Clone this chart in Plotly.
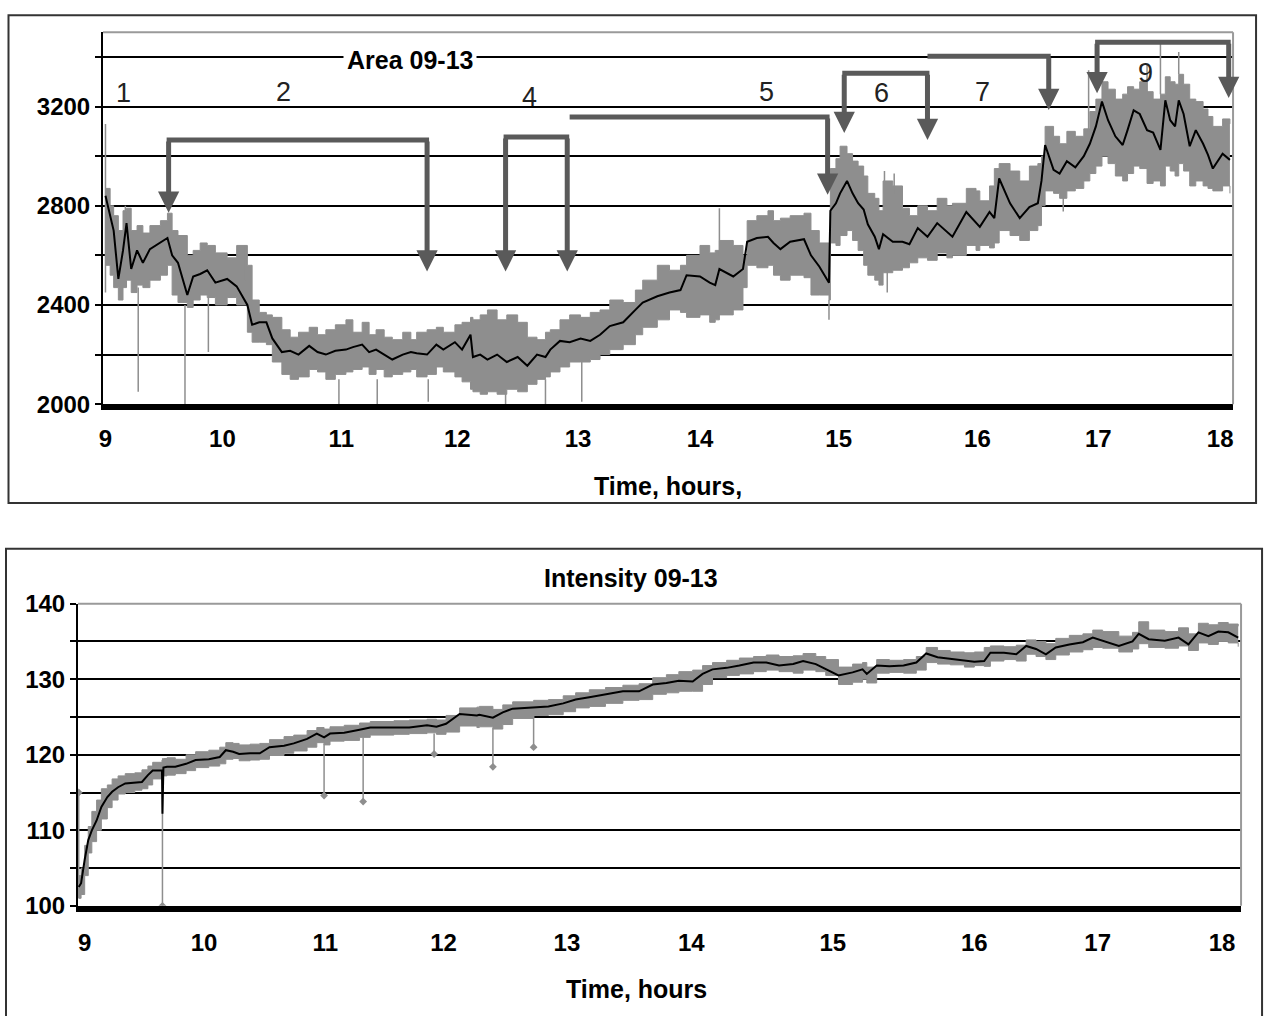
import numpy as np
import plotly.graph_objects as go

# ---------------- axis structure (Excel-like category axis: hour ticks at sample positions)
hour_labels = [9, 10, 11, 12, 13, 14, 15, 16, 17, 18]
hour_tick_pos = [0, 118, 238, 355, 477, 600, 740, 880, 1002, 1125]

# ---------------- Area 09-13 (top panel)
area_t = [9.00, 9.04, 9.07, 9.11, 9.15, 9.18, 9.22, 9.27, 9.32, 9.38,
          9.47, 9.53, 9.57, 9.62, 9.70, 9.75, 9.81, 9.87, 9.94, 10.04,
          10.12, 10.21, 10.25, 10.31, 10.37, 10.42, 10.50, 10.57, 10.64, 10.73,
          10.80, 10.87, 10.95, 11.04, 11.10, 11.18, 11.24, 11.30, 11.37, 11.44,
          11.53, 11.60, 11.65, 11.74, 11.82, 11.88, 11.98, 12.04, 12.11, 12.13,
          12.19, 12.25, 12.33, 12.41, 12.50, 12.58, 12.66, 12.73, 12.77, 12.85,
          12.93, 13.02, 13.10, 13.18, 13.26, 13.37, 13.47, 13.53, 13.65, 13.75,
          13.84, 13.89, 14.00, 14.07, 14.11, 14.14, 14.24, 14.31, 14.34, 14.41,
          14.49, 14.53, 14.58, 14.65, 14.75, 14.80, 14.86, 14.93, 14.94, 14.98,
          15.01, 15.06, 15.10, 15.14, 15.18, 15.21, 15.26, 15.29, 15.32, 15.39,
          15.46, 15.51, 15.57, 15.64, 15.71, 15.78, 15.82, 15.92, 15.99, 16.02,
          16.10, 16.14, 16.18, 16.27, 16.35, 16.43, 16.50, 16.53, 16.56, 16.63,
          16.68, 16.74, 16.81, 16.88, 16.93, 16.98, 17.03, 17.08, 17.14, 17.20,
          17.24, 17.29, 17.34, 17.40, 17.45, 17.51, 17.55, 17.59, 17.63, 17.66,
          17.70, 17.75, 17.80, 17.86, 17.90, 17.94, 18.02, 18.08]
area_mean = [2840, 2760, 2700, 2505, 2620, 2730, 2545, 2620, 2570, 2625,
             2650, 2670, 2600, 2570, 2440, 2515, 2525, 2540, 2490, 2505,
             2475, 2400, 2320, 2330, 2330, 2265, 2210, 2215, 2200, 2235,
             2210, 2200, 2215, 2220, 2230, 2240, 2210, 2220, 2200, 2180,
             2200, 2210, 2205, 2200, 2240, 2220, 2250, 2220, 2280, 2190,
             2200, 2180, 2200, 2170, 2190, 2155, 2200, 2190, 2220, 2255,
             2250, 2265, 2255, 2280, 2315, 2330, 2380, 2410, 2435, 2450,
             2460, 2520, 2515, 2490, 2480, 2545, 2515, 2545, 2655, 2670,
             2675, 2650, 2625, 2655, 2665, 2600, 2555, 2490, 2780, 2810,
             2850, 2900, 2850, 2810, 2785, 2725, 2675, 2625, 2685, 2655,
             2655, 2645, 2710, 2675, 2730, 2695, 2675, 2775, 2735, 2715,
             2775, 2750, 2910, 2810, 2750, 2795, 2810, 2900, 3045, 2945,
             2930, 2980, 2955, 3000, 3050, 3120, 3220, 3145, 3080, 3045,
             3105, 3185, 3170, 3105, 3095, 3025, 3225, 3145, 3120, 3225,
             3170, 3040, 3105, 3050, 3005, 2950, 3010, 2985]
area_hi = [2870, 2800, 2760, 2700, 2780, 2790, 2700, 2720, 2690, 2720,
           2740, 2770, 2700, 2680, 2600, 2620, 2650, 2640, 2610, 2590,
           2640, 2560, 2420, 2370, 2360, 2350, 2300, 2270, 2290, 2310,
           2280, 2300, 2320, 2340, 2290, 2330, 2280, 2300, 2270, 2260,
           2290, 2260, 2290, 2300, 2310, 2290, 2320, 2330, 2350, 2340,
           2360, 2380, 2340, 2360, 2330, 2270, 2260, 2290, 2300, 2340,
           2360, 2350, 2370, 2380, 2420, 2410, 2460, 2500, 2560, 2540,
           2560, 2600, 2640, 2610, 2620, 2660, 2640, 2600, 2740, 2760,
           2780, 2740, 2750, 2760, 2770, 2700, 2650, 2600, 2950, 2990,
           3040, 3010, 2980, 2960, 2920, 2850, 2830, 2780, 2900, 2880,
           2790, 2760, 2800, 2780, 2830, 2800, 2810, 2870, 2860, 2820,
           2880, 2950, 2970, 2940, 2900, 2960, 2970, 3000, 3120, 3080,
           3050, 3100, 3080, 3110, 3180, 3230, 3300, 3270, 3230, 3250,
           3280, 3270, 3300, 3260, 3230, 3250, 3320, 3300, 3290, 3330,
           3290, 3230, 3220, 3190, 3160, 3120, 3150, 3130]
area_lo = [2560, 2520, 2470, 2420, 2470, 2500, 2450, 2480, 2470, 2500,
           2520, 2560, 2440, 2410, 2390, 2420, 2440, 2430, 2400, 2430,
           2400, 2290, 2250, 2250, 2240, 2170, 2120, 2100, 2110, 2140,
           2130, 2100, 2120, 2130, 2140, 2150, 2120, 2140, 2110, 2120,
           2130, 2140, 2110, 2120, 2150, 2130, 2110, 2090, 2060, 2050,
           2040, 2050, 2040, 2060, 2050, 2080, 2100, 2110, 2130, 2150,
           2170, 2170, 2180, 2200, 2220, 2240, 2280, 2310, 2340, 2380,
           2370, 2350, 2360, 2330, 2340, 2360, 2380, 2470, 2560, 2550,
           2560, 2520, 2500, 2520, 2510, 2440, 2440, 2420, 2650, 2640,
           2680, 2700, 2660, 2620, 2560, 2520, 2500, 2480, 2530, 2540,
           2550, 2570, 2590, 2580, 2610, 2590, 2600, 2640, 2620, 2640,
           2630, 2650, 2700, 2680, 2660, 2700, 2720, 2800, 2860, 2850,
           2830, 2860, 2870, 2900, 2930, 2960, 3000, 2970, 2920, 2900,
           2930, 2960, 2950, 2890, 2900, 2880, 2960, 2940, 2920, 2970,
           2940, 2880, 2900, 2880, 2870, 2860, 2880, 2850]
area_spike_t = [9.00, 9.17, 9.28, 9.68, 9.88, 10.19, 10.98, 11.31, 11.75, 12.40,
                12.73, 13.03, 14.14, 14.93, 15.33, 15.35, 15.40, 16.71, 16.92, 17.40,
                17.51, 17.66]
area_spike_from = [2450, 2700, 2470, 2400, 2430, 2500, 2100, 2100, 2100, 2050,
                   2100, 2170, 2600, 2420, 2850, 2540, 2850, 2840, 3100, 3250,
                   3250, 3330]
area_spike_to = [3130, 2800, 2050, 2000, 2210, 2640, 2000, 2000, 2010, 2000,
                 2000, 2010, 2790, 2340, 2940, 2450, 2930, 2777, 3346, 3370,
                 3460, 3420]

# brackets: (start hour, end hour, bar level, arrow tip at start, arrow tip at end)
area_brackets = [(9.54, 11.74, 3065, 2772, 2535),
                 (12.40, 12.91, 3077, 2535, 2535),
                 (15.04, 15.64, 3334, 3093, 3065),
                 (16.99, 18.07, 3459, 3254, 3234)]
# leaders: (start hour, end hour, bar level, arrow tip at end)
area_leaders = [(12.93, 14.92, 3158, 2844),
                (15.64, 16.59, 3403, 3186)]
stage_labels = ["1", "2", "4", "5", "6", "7", "9"]
stage_t = [9.15, 10.51, 12.60, 14.48, 15.31, 16.04, 17.39]
stage_y = [3254, 3258, 3238, 3258, 3254, 3258, 3334]

# ---------------- Intensity 09-13 (bottom panel)
int_t = [8.95, 8.97, 9.00, 9.03, 9.06, 9.10, 9.14, 9.19, 9.23, 9.28,
         9.34, 9.42, 9.48, 9.53, 9.57, 9.648, 9.652, 9.66, 9.69, 9.76,
         9.85, 9.93, 10.04, 10.13, 10.18, 10.24, 10.29, 10.38, 10.46, 10.54,
         10.66, 10.74, 10.85, 10.93, 10.99, 11.04, 11.16, 11.29, 11.38, 11.58,
         11.71, 11.86, 11.94, 12.02, 12.13, 12.27, 12.29, 12.40, 12.48, 12.56,
         12.73, 12.85, 12.97, 13.07, 13.18, 13.31, 13.45, 13.58, 13.69, 13.80,
         13.90, 14.01, 14.08, 14.15, 14.25, 14.34, 14.44, 14.53, 14.62, 14.72,
         14.79, 14.88, 14.95, 15.04, 15.14, 15.21, 15.24, 15.31, 15.40, 15.50,
         15.59, 15.66, 15.74, 15.83, 15.93, 16.00, 16.08, 16.13, 16.24, 16.34,
         16.42, 16.50, 16.58, 16.66, 16.77, 16.88, 16.96, 17.04, 17.17, 17.28,
         17.33, 17.41, 17.54, 17.65, 17.73, 17.81, 17.89, 17.97, 18.05, 18.13]
int_mean = [102.5, 103.0, 106.1, 108.7, 110.0, 111.3, 113.1, 114.4, 115.1, 115.7,
            116.2, 116.3, 116.4, 117.3, 117.9, 117.9, 112.2, 118.3, 118.4, 118.4,
            118.8, 119.3, 119.4, 119.7, 120.6, 120.4, 120.1, 120.2, 120.2, 121.0,
            121.2, 121.5, 122.1, 122.8, 122.3, 122.8, 122.9, 123.3, 123.6, 123.6,
            123.6, 123.9, 123.7, 124.1, 125.4, 125.2, 125.3, 124.9, 125.6, 126.1,
            126.3, 126.4, 126.8, 127.3, 127.6, 128.0, 128.4, 128.4, 129.3, 129.5,
            129.8, 129.7, 130.7, 131.3, 131.5, 131.8, 132.2, 132.2, 131.8, 132.0,
            132.4, 132.0, 131.3, 130.5, 130.9, 131.3, 130.7, 131.8, 131.7, 131.8,
            132.2, 133.4, 132.9, 132.7, 132.4, 132.3, 132.4, 133.5, 133.5, 133.3,
            134.4, 134.0, 133.3, 134.2, 134.6, 134.9, 135.5, 135.1, 134.4, 135.0,
            136.0, 135.3, 135.1, 135.5, 134.6, 136.2, 135.7, 136.3, 136.2, 135.5]
int_hi = [104.0, 105.0, 108.0, 110.5, 112.5, 114.0, 115.5, 116.0, 116.8, 117.2,
          117.5, 117.6, 118.0, 118.5, 119.0, 119.3, 119.5, 119.5, 119.6, 119.4,
          120.0, 120.4, 120.6, 121.0, 121.6, 121.5, 121.3, 121.4, 121.5, 122.0,
          122.4, 122.6, 123.2, 123.6, 123.4, 123.7, 123.9, 124.2, 124.4, 124.5,
          124.6, 124.7, 124.6, 125.2, 126.2, 126.3, 126.4, 126.0, 126.6, 127.0,
          127.2, 127.3, 127.8, 128.2, 128.6, 128.9, 129.2, 129.4, 130.2, 130.6,
          131.0, 131.2, 131.8, 132.2, 132.5, 132.8, 133.0, 133.2, 133.0, 133.1,
          133.4, 133.0, 132.6, 131.6, 132.0, 132.2, 131.6, 132.6, 132.5, 132.6,
          133.0, 134.2, 133.8, 133.6, 133.5, 133.6, 134.2, 134.4, 134.3, 134.5,
          135.2, 135.0, 134.7, 135.4, 135.8, 136.0, 136.5, 136.3, 135.7, 136.2,
          137.6, 136.5, 136.3, 136.8, 136.0, 137.4, 137.2, 137.5, 137.3, 137.0]
int_lo = [101.0, 101.5, 104.0, 107.0, 108.5, 110.0, 111.5, 113.0, 114.0, 114.8,
          115.0, 115.3, 115.5, 116.0, 116.8, 117.0, 117.0, 117.2, 117.3, 117.5,
          117.9, 118.3, 118.5, 118.8, 119.4, 119.5, 119.2, 119.3, 119.4, 119.9,
          120.2, 120.5, 121.0, 121.6, 121.3, 121.8, 121.9, 122.3, 122.6, 122.7,
          122.8, 122.9, 122.7, 123.0, 123.8, 123.6, 123.7, 123.4, 124.0, 124.8,
          125.2, 125.3, 125.7, 126.2, 126.4, 126.8, 127.2, 127.3, 128.0, 128.2,
          128.4, 128.4, 129.3, 130.2, 130.5, 130.7, 131.0, 131.2, 131.0, 130.8,
          131.2, 131.0, 130.5, 129.3, 129.6, 130.0, 129.5, 130.8, 130.9, 130.8,
          131.2, 132.2, 132.0, 131.9, 131.6, 131.8, 131.7, 132.4, 132.6, 132.4,
          133.3, 133.0, 132.6, 133.2, 133.6, 133.9, 134.2, 134.1, 133.6, 134.0,
          134.7, 134.2, 134.1, 134.4, 133.8, 134.8, 134.6, 135.0, 134.8, 134.3]
int_spike_t = [8.95, 9.652, 10.99, 11.32, 11.92, 12.40, 12.73]
int_spike_from = [101.0, 117.5, 121.5, 122.3, 122.8, 123.5, 125.2]
int_spike_to = [115.0, 100.0, 114.6, 113.8, 120.1, 118.4, 121.0]

# ---------------- styling / page geometry
W, H = 1266, 1016
# photographed page -> picture mapping observed in the capture (picture = off + scale * page)
CAP_X0, CAP_SX = 4.0, 0.9968
CAP_Y0, CAP_SY = 13.8, 0.976
FONT = "Liberation Sans, Arial, sans-serif"
BAND = "#8e8e8e"
ARROW = "#5a5a5a"


def to_idx(h):
    h = np.asarray(h, dtype=float)
    idx = np.interp(h, hour_labels, hour_tick_pos)
    idx = np.where(h < hour_labels[0],
                   hour_tick_pos[0] + (h - hour_labels[0]) * (hour_tick_pos[1] - hour_tick_pos[0]), idx)
    idx = np.where(h > hour_labels[-1],
                   hour_tick_pos[-1] + (h - hour_labels[-1]) * (hour_tick_pos[-1] - hour_tick_pos[-2]), idx)
    return idx


def px(x):
    return ((x - CAP_X0) / CAP_SX) / W


def py(y):
    return 1 - ((y - CAP_Y0) / CAP_SY) / H


def spikes(t, a, b):
    xs, ys = [], []
    for ti, ai, bi in zip(to_idx(t), a, b):
        xs += [ti, ti, None]
        ys += [ai, bi, None]
    return xs, ys


fig = go.Figure()

# ---- top panel traces
xa = to_idx(area_t)
fig.add_trace(go.Scatter(x=xa, y=area_lo, mode="lines", line=dict(width=1, color=BAND, shape="hv"),
                         xaxis="x", yaxis="y", hoverinfo="skip"))
fig.add_trace(go.Scatter(x=xa, y=area_hi, mode="lines", line=dict(width=1, color=BAND, shape="hv"),
                         fill="tonexty", fillcolor=BAND, xaxis="x", yaxis="y", hoverinfo="skip"))
sx, sy = spikes(area_spike_t, area_spike_from, area_spike_to)
fig.add_trace(go.Scatter(x=sx, y=sy, mode="lines", line=dict(width=1.5, color=BAND),
                         xaxis="x", yaxis="y", hoverinfo="skip"))
fig.add_trace(go.Scatter(x=xa, y=area_mean, mode="lines", line=dict(width=2, color="black"),
                         xaxis="x", yaxis="y", name="Area"))

# ---- bottom panel traces
xb = to_idx(int_t)
fig.add_trace(go.Scatter(x=xb, y=int_lo, mode="lines", line=dict(width=1, color=BAND, shape="hv"),
                         xaxis="x2", yaxis="y2", hoverinfo="skip"))
fig.add_trace(go.Scatter(x=xb, y=int_hi, mode="lines", line=dict(width=1, color=BAND, shape="hv"),
                         fill="tonexty", fillcolor=BAND, xaxis="x2", yaxis="y2", hoverinfo="skip"))
sx2, sy2 = spikes(int_spike_t, int_spike_from, int_spike_to)
fig.add_trace(go.Scatter(x=sx2, y=sy2, mode="lines", line=dict(width=1.5, color=BAND),
                         xaxis="x2", yaxis="y2", hoverinfo="skip"))
fig.add_trace(go.Scatter(x=to_idx(int_spike_t), y=int_spike_to, mode="markers",
                         marker=dict(symbol="diamond", size=6, color=BAND),
                         xaxis="x2", yaxis="y2", hoverinfo="skip"))
fig.add_trace(go.Scatter(x=xb, y=int_mean, mode="lines", line=dict(width=2, color="black"),
                         xaxis="x2", yaxis="y2", name="Intensity"))

tickfont = dict(family=FONT, size=24, color="black", weight="bold")

area_ticks = list(range(2000, 3401, 200))
int_ticks = list(range(100, 141, 5))

fig.update_layout(
    width=W, height=H, margin=dict(l=0, r=0, t=0, b=0),
    paper_bgcolor="white", plot_bgcolor="white", showlegend=False,
    font=dict(family=FONT, color="black"),
    xaxis=dict(domain=[px(103), px(1233)], anchor="y", range=[-2.5, 1138],
               tickvals=hour_tick_pos, ticktext=[str(h) for h in hour_labels],
               showgrid=False, zeroline=False, showline=True, linecolor="black", linewidth=6,
               ticks="", tickfont=tickfont, ticklabelstandoff=8),
    yaxis=dict(domain=[py(405), py(32)], anchor="x", range=[2000, 3500],
               tickvals=area_ticks, ticktext=[str(v) if v % 400 == 0 else "" for v in area_ticks],
               showgrid=True, gridcolor="black", gridwidth=1.5, zeroline=False,
               showline=True, linecolor="black", linewidth=2,
               ticks="outside", ticklen=6, tickcolor="black", tickwidth=1.5, tickfont=tickfont),
    xaxis2=dict(domain=[px(78), px(1241)], anchor="y2", range=[-6.6, 1143.8],
                tickvals=hour_tick_pos, ticktext=[str(h) for h in hour_labels],
                showgrid=False, zeroline=False, showline=True, linecolor="black", linewidth=6,
                ticks="", tickfont=tickfont, ticklabelstandoff=10),
    yaxis2=dict(domain=[py(908), py(605)], anchor="x2", range=[100, 140],
                tickvals=int_ticks, ticktext=[str(v) if v % 10 == 0 else "" for v in int_ticks],
                showgrid=True, gridcolor="black", gridwidth=1.5, zeroline=False,
                showline=True, linecolor="black", linewidth=2,
                ticks="outside", ticklen=6, tickcolor="black", tickwidth=1.5, tickfont=tickfont),
)

shapes = []
# outer frames
shapes.append(dict(type="rect", xref="paper", yref="paper", x0=px(8.5), x1=px(1256), y0=py(504), y1=py(15),
                   line=dict(color="#333333", width=2), layer="below"))
shapes.append(dict(type="rect", xref="paper", yref="paper", x0=px(6), x1=px(1262), y0=py(1040), y1=py(550),
                   line=dict(color="#333333", width=2), layer="below"))
# thin gray top/right plot borders
for xr, yr in (("x", "y"), ("x2", "y2")):
    shapes.append(dict(type="line", xref=xr + " domain", yref=yr + " domain", x0=0, x1=1, y0=1, y1=1,
                       line=dict(color="#9a9a9a", width=2)))
    shapes.append(dict(type="line", xref=xr + " domain", yref=yr + " domain", x0=1, x1=1, y0=0, y1=1,
                       line=dict(color="#9a9a9a", width=2)))

annotations = []
# brackets with two down arrows
for t0, t1, ybar, tip0, tip1 in area_brackets:
    i0, i1 = to_idx([t0, t1])
    shapes.append(dict(type="line", xref="x", yref="y", x0=i0 - 2, x1=i1 + 2, y0=ybar, y1=ybar,
                       line=dict(color=ARROW, width=5)))
    for ii, tip in ((i0, tip0), (i1, tip1)):
        annotations.append(dict(x=ii, y=tip, ax=ii, ay=ybar, xref="x", yref="y", axref="x", ayref="y",
                                text="", showarrow=True, arrowhead=2, arrowsize=0.85, arrowwidth=5,
                                arrowcolor=ARROW, standoff=0))
# leader lines with one arrow at the end
for t0, t1, ybar, tip in area_leaders:
    i0, i1 = to_idx([t0, t1])
    shapes.append(dict(type="line", xref="x", yref="y", x0=i0, x1=i1 + 2, y0=ybar, y1=ybar,
                       line=dict(color=ARROW, width=5)))
    annotations.append(dict(x=i1, y=tip, ax=i1, ay=ybar, xref="x", yref="y", axref="x", ayref="y",
                            text="", showarrow=True, arrowhead=2, arrowsize=0.85, arrowwidth=5,
                            arrowcolor=ARROW, standoff=0))
# stage numbers
for lab, t, yv in zip(stage_labels, to_idx(stage_t), stage_y):
    annotations.append(dict(x=t, y=yv, xref="x", yref="y", text=lab, showarrow=False,
                            xanchor="center", yanchor="middle",
                            font=dict(family=FONT, size=27, color="#222222")))

# titles
title_font = dict(family=FONT, size=25, color="black", weight="bold")
for txt, x, y, bg in (("Area 09-13", 410, 60, "white"), ("Time, hours,", 668, 487, None),
                      ("Intensity 09-13", 631, 579, None), ("Time, hours", 636, 991, None)):
    a = dict(x=px(x), y=py(y), xref="paper", yref="paper", text=txt, showarrow=False,
             xanchor="center", yanchor="middle", font=title_font)
    if bg:
        a.update(bgcolor=bg, borderpad=3)
    annotations.append(a)

fig.update_layout(shapes=shapes, annotations=annotations)

fig.write_html("out.html", config={"displayModeBar": False},
               post_script="document.body.style.margin='0';document.body.style.overflow='hidden';")
